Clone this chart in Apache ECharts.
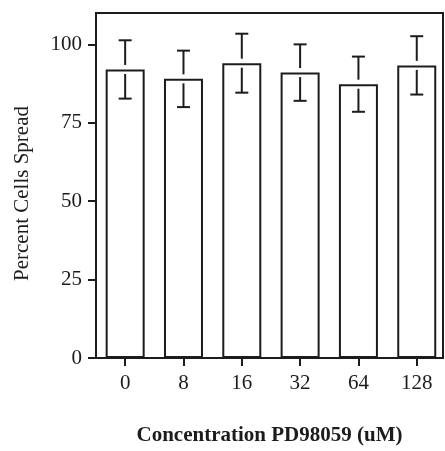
<!DOCTYPE html>
<html>
<head>
<meta charset="utf-8">
<script src="https://cdn.jsdelivr.net/npm/echarts@6/dist/echarts.min.js"></script>
<style>
	html,body{margin:0;padding:0;background:#fff;}
	#chart{width:445px;height:451px;}
</style>
</head>
<body>
<div id="chart"></div>
<script>
// PD98059 concentrations (uM), mean percent spread, error bar half-length
var concentrations = ['0', '8', '16', '32', '64', '128'];
var spread = [92, 89, 94, 91, 87.3, 93.3];
var errors = [9.3, 9, 9.4, 9, 8.8, 9.3];
var yTicks = [0, 25, 50, 75, 100];

var ink = '#1c1c1c';
var serif = "'Liberation Serif', 'Times New Roman', serif";

var positions = concentrations.map(function(c, i){ return i; });
var barData = positions.map(function(i){ return [i, spread[i]]; });
var errData = positions.map(function(i){ return [i, spread[i], errors[i]]; });

var myChart = echarts.init(document.getElementById('chart'));

function renderError(params, api){
	var x = api.value(0), m = api.value(1), e = api.value(2);
	var top = api.coord([x, m + e]);
	var mid = api.coord([x, m]);
	var bot = api.coord([x, m - e]);
	var gap = 4.5, cap = 6.5;
	var style = {stroke: ink, lineWidth: 2};
	return {
		type: 'group',
		children: [
			{type: 'line', shape: {x1: top[0] - cap, y1: top[1], x2: top[0] + cap, y2: top[1]}, style: style},
			{type: 'line', shape: {x1: top[0], y1: top[1], x2: top[0], y2: mid[1] - gap}, style: style},
			{type: 'line', shape: {x1: bot[0], y1: mid[1] + gap, x2: bot[0], y2: bot[1]}, style: style},
			{type: 'line', shape: {x1: bot[0] - cap, y1: bot[1], x2: bot[0] + cap, y2: bot[1]}, style: style}
		]
	};
}

var option = {
	animation: false,
	backgroundColor: '#fff',
	grid: {
		left: 96,
		right: 2,
		top: 13,
		bottom: 87.5,
		show: true,
		borderColor: ink,
		borderWidth: 2
	},
	xAxis: {
		type: 'value',
		min: -0.5,
		max: 5.45,
		name: 'Concentration PD98059 (uM)',
		nameLocation: 'middle',
		nameGap: 67,
		nameTextStyle: {fontFamily: serif, fontSize: 21, fontWeight: 'bold', color: ink},
		axisLine: {show: true, onZero: false, lineStyle: {color: ink, width: 2}},
		axisTick: {show: true, length: 8, customValues: positions, lineStyle: {color: ink, width: 2}},
		axisLabel: {
			customValues: positions,
			margin: 15,
			fontFamily: serif,
			fontSize: 21,
			color: ink,
			formatter: function(v){ return concentrations[Math.round(v)]; }
		},
		splitLine: {show: false}
	},
	yAxis: {
		type: 'value',
		min: 0,
		max: 110,
		name: 'Percent Cells Spread',
		nameLocation: 'middle',
		nameGap: 63,
		nameTextStyle: {fontFamily: serif, fontSize: 21, color: ink, padding: [0, 16, 0, 0]},
		axisLine: {show: true, onZero: false, lineStyle: {color: ink, width: 2}},
		axisTick: {show: true, length: 8, customValues: yTicks, lineStyle: {color: ink, width: 2}},
		axisLabel: {customValues: yTicks, margin: 14, fontFamily: serif, fontSize: 21, color: ink},
		splitLine: {show: false}
	},
	series: [
		{
			type: 'bar',
			barWidth: 39,
			data: barData,
			itemStyle: {color: '#fff', borderColor: ink, borderWidth: 2}
		},
		{
			type: 'custom',
			renderItem: renderError,
			encode: {x: 0, y: 1},
			data: errData,
			z: 10
		}
	]
};
myChart.setOption(option);
</script>
</body>
</html>
